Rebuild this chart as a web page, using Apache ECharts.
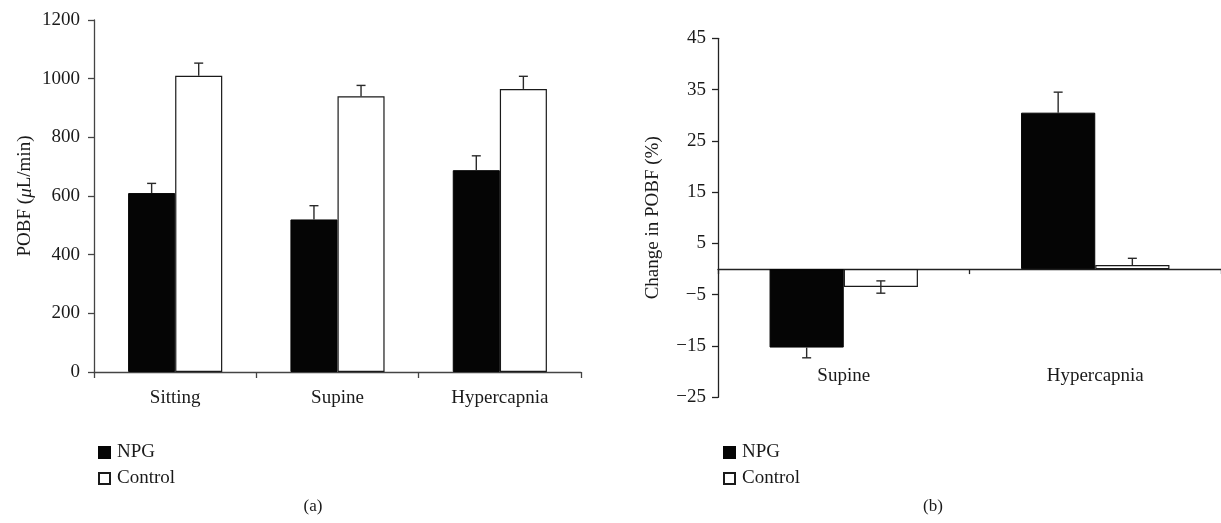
<!DOCTYPE html>
<html>
<head>
<meta charset="utf-8">
<script src="https://cdn.jsdelivr.net/npm/echarts@6/dist/echarts.min.js"></script>
<style>
html,body{margin:0;padding:0;background:#fff;}
#c{width:1221px;height:523px;}
</style>
</head>
<body>
<div id="c"></div>
<script>
// ---- data ----
const categoriesA = ['Sitting', 'Supine', 'Hypercapnia'];
const npgA = [610, 520, 688];
const npgAErr = [33, 47, 49];
const controlA = [1010, 940, 965];
const controlAErr = [43, 37, 43];
const yTicksA = [0, 200, 400, 600, 800, 1000, 1200];

const categoriesB = ['Supine', 'Hypercapnia'];
const npgB = [-15.3, 30.5];
const npgBErr = [2.0, 4.0];
const controlB = [-3.5, 0.8];
const controlBErr = [1.2, 1.3];
const yTicksB = [-25, -15, -5, 5, 15, 25, 35, 45];

const seriesNames = ['NPG', 'Control'];
const captions = ['(a)', '(b)'];

// ---- styling ----
const FONT = '"Liberation Serif", "DejaVu Serif", serif';
const FS = 19;
const TXT = '#1a1a1a';
const gapA = 0.42, gapB = 0.41;

function minus(v) { return String(v).replace('-', '\u2212'); }

// side: -1 left bar, +1 right bar; both: also draw inner half when it stays on the bar's side of zero
function errRenderer(gap, side, both) {
  return function (params, api) {
    const i = api.value(0), v = api.value(1), e = api.value(2);
    const band = api.size([1, 0])[0];
    const bw = band * (1 - gap) / 2;
    const base = api.coord([i, v]);
    const x = base[0] + side * bw / 2;
    const dir = v >= 0 ? 1 : -1;
    const yEnd = api.coord([i, v + dir * e])[1];
    const inner = v - dir * e;
    const drawInner = both && (inner * v > 0);
    const yStart = drawInner ? api.coord([i, inner])[1] : base[1];
    const cap = 4.5;
    const st = { stroke: '#2a2a2a', lineWidth: 1.4, fill: null };
    const children = [
      { type: 'line', shape: { x1: x, y1: yStart, x2: x, y2: yEnd }, style: st },
      { type: 'line', shape: { x1: x - cap, y1: yEnd, x2: x + cap, y2: yEnd }, style: st }
    ];
    if (drawInner) children.push({ type: 'line', shape: { x1: x - cap, y1: yStart, x2: x + cap, y2: yStart }, style: st });
    return { type: 'group', children: children };
  };
}

function errData(vals, errs) { return vals.map((v, i) => [i, v, errs[i]]); }

const axisTxt = { fontFamily: FONT, fontSize: FS, color: TXT };

const option = {
  animation: false,
  backgroundColor: '#fff',
  grid: [
    { left: 94, right: 640, top: 20, bottom: 151 },
    { left: 718, right: 0, top: 38.3, bottom: 125.7 }
  ],
  xAxis: [
    {
      gridIndex: 0, type: 'category', data: categoriesA,
      axisLine: { lineStyle: { color: '#444', width: 1.3 } },
      axisTick: { show: true, length: 6, lineStyle: { color: '#444', width: 1.3 } },
      axisLabel: Object.assign({ margin: 17 }, axisTxt),
      splitLine: { show: false }
    },
    {
      gridIndex: 1, type: 'category', data: categoriesB,
      axisLine: { onZero: true, lineStyle: { color: '#222', width: 1.3 } },
      axisTick: { show: true, length: 5, lineStyle: { color: '#222', width: 1.3 } },
      axisLabel: Object.assign({ margin: -31 }, axisTxt),
      splitLine: { show: false }
    }
  ],
  yAxis: [
    {
      gridIndex: 0, type: 'value', min: yTicksA[0], max: yTicksA[yTicksA.length - 1], interval: 200,
      name: '{n|POBF (}{i|\u03bc}{n|L/min)}', nameLocation: 'middle', nameRotate: 90, nameGap: 59,
      nameTextStyle: {
        rich: {
          n: { fontFamily: FONT, fontSize: FS, color: TXT },
          i: { fontFamily: FONT, fontSize: FS, color: TXT, fontStyle: 'italic' }
        }
      },
      axisLine: { show: true, lineStyle: { color: '#444', width: 1.3 } },
      axisTick: { show: true, length: 6, lineStyle: { color: '#444', width: 1.3 } },
      axisLabel: Object.assign({ margin: 14, formatter: v => String(v) }, axisTxt),
      splitLine: { show: false }
    },
    {
      gridIndex: 1, type: 'value', min: yTicksB[0], max: yTicksB[yTicksB.length - 1],
      name: 'Change in POBF (%)', nameLocation: 'middle', nameRotate: 90, nameGap: 55,
      nameTextStyle: axisTxt,
      axisLine: { show: true, onZero: false, lineStyle: { color: '#222', width: 1.3 } },
      axisTick: { show: true, length: 6, customValues: yTicksB, lineStyle: { color: '#222', width: 1.3 } },
      axisLabel: Object.assign({ margin: 12, customValues: yTicksB, formatter: minus }, axisTxt),
      splitLine: { show: false }
    }
  ],
  legend: [
    {
      left: 93, top: 438, orient: 'vertical', icon: 'rect', itemWidth: 11, itemHeight: 11, itemGap: 7,
      data: seriesNames, textStyle: { fontFamily: FONT, fontSize: FS, color: TXT, padding: [0, 0, 0, 2] },
      selectedMode: false
    },
    {
      left: 718, top: 438, orient: 'vertical', icon: 'rect', itemWidth: 11, itemHeight: 11, itemGap: 7,
      data: seriesNames, textStyle: { fontFamily: FONT, fontSize: FS, color: TXT, padding: [0, 0, 0, 2] },
      selectedMode: false
    }
  ],
  graphic: [
    { type: 'text', x: 313, y: 507, style: { text: captions[0], font: '17px ' + FONT, fill: TXT, textAlign: 'center', textVerticalAlign: 'middle' } },
    { type: 'text', x: 933, y: 507, style: { text: captions[1], font: '17px ' + FONT, fill: TXT, textAlign: 'center', textVerticalAlign: 'middle' } }
  ],
  series: [
    { name: seriesNames[0], type: 'bar', xAxisIndex: 0, yAxisIndex: 0, data: npgA, barGap: '0%', barCategoryGap: (gapA * 100) + '%',
      itemStyle: { color: '#050505', borderColor: '#050505', borderWidth: 1 } },
    { name: seriesNames[1], type: 'bar', xAxisIndex: 0, yAxisIndex: 0, data: controlA, barGap: '0%', barCategoryGap: (gapA * 100) + '%',
      itemStyle: { color: '#ffffff', borderColor: '#1a1a1a', borderWidth: 1.2 } },
    { name: 'errNPGa', type: 'custom', xAxisIndex: 0, yAxisIndex: 0, z: 5, renderItem: errRenderer(gapA, -1, false), data: errData(npgA, npgAErr) },
    { name: 'errCtlA', type: 'custom', xAxisIndex: 0, yAxisIndex: 0, z: 5, renderItem: errRenderer(gapA, 1, false), data: errData(controlA, controlAErr) },

    { name: seriesNames[0], type: 'bar', xAxisIndex: 1, yAxisIndex: 1, data: npgB, barGap: '0%', barCategoryGap: (gapB * 100) + '%',
      itemStyle: { color: '#050505', borderColor: '#050505', borderWidth: 1 } },
    { name: seriesNames[1], type: 'bar', xAxisIndex: 1, yAxisIndex: 1, data: controlB, barGap: '0%', barCategoryGap: (gapB * 100) + '%',
      itemStyle: { color: '#ffffff', borderColor: '#1a1a1a', borderWidth: 1.2 } },
    { name: 'errNPGb', type: 'custom', xAxisIndex: 1, yAxisIndex: 1, z: 5, renderItem: errRenderer(gapB, -1, false), data: errData(npgB, npgBErr) },
    { name: 'errCtlB', type: 'custom', xAxisIndex: 1, yAxisIndex: 1, z: 5, renderItem: errRenderer(gapB, 1, true), data: errData(controlB, controlBErr) }
  ]
};

const chart = echarts.init(document.getElementById('c'), null, { renderer: 'canvas' });
chart.setOption(option);
</script>
</body>
</html>
